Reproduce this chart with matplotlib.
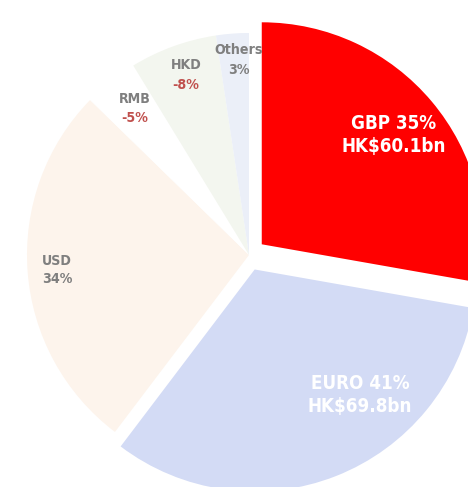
import matplotlib
matplotlib.use("Agg")
import matplotlib.pyplot as plt
from matplotlib import font_manager

names = ["GBP", "EURO", "USD", "RMB", "HKD", "Others"]
pct = [35, 41, 34, -5, -8, 3]
amounts = ["HK$60.1bn", "HK$69.8bn", "", "", "", ""]
colors = ["#ff0000", "#d3dbf5", "#fdf4ec", "#ffffff", "#f3f6ef", "#ebeff8"]
explode = [0.075, 0.07, 0, 0, 0, 0]

avail = {(f.name, f.stretch) for f in font_manager.fontManager.ttflist}
names_avail = {n for n, s in avail}
if "Liberation Sans Narrow" in names_avail:
    fam, stretch = "Liberation Sans Narrow", "normal"
else:
    fam, stretch = "DejaVu Sans", "condensed"

W, H = 468, 487
R = 222.0
cx, cy = 249, 255
fig = plt.figure(figsize=(W / 100, H / 100), dpi=100)
ax = fig.add_axes([0, 0, 1, 1])
sizes = [abs(p) for p in pct]
wedges, _ = ax.pie(sizes, colors=colors, explode=explode, startangle=90,
                   counterclock=False, radius=1.0,
                   wedgeprops=dict(linewidth=0))
ax.set_xlim(-cx / R, (W - cx) / R)
ax.set_ylim(-(H - cy) / R, cy / R)
ax.set_aspect("auto")
ax.axis("off")

def px(x, y):
    return ((x - cx) / R, (cy - y) / R)

gray = "#7f7f7f"
red = "#c0504d"
common = dict(family=fam, fontstretch=stretch, fontweight="bold")
# Big labels
for i, (x, y) in [(0, (394, 135)), (1, (360, 395))]:
    ax.text(*px(x, y), f"{names[i]} {pct[i]}%\n{amounts[i]}", color="white",
            fontsize=13.5, ha="center", va="center", linespacing=1.3, **common)

# Small labels
fs = 10.2
ax.text(*px(42, 261), names[2], color=gray, fontsize=fs, ha="left",
        va="center", **common)
ax.text(*px(42, 279), f"{pct[2]}%", color=gray, fontsize=fs, ha="left",
        va="center", **common)
for i, (x, y1, y2) in [(3, (135, 99, 118)), (4, (186, 65, 85)), (5, (239, 50, 70))]:
    ax.text(*px(x, y1), names[i], color=gray, fontsize=fs, ha="center",
            va="center", **common)
    ax.text(*px(x, y2), f"{pct[i]}%", color=red if pct[i] < 0 else gray,
            fontsize=fs, ha="center", va="center", **common)

fig.savefig("out.png", dpi=100)
